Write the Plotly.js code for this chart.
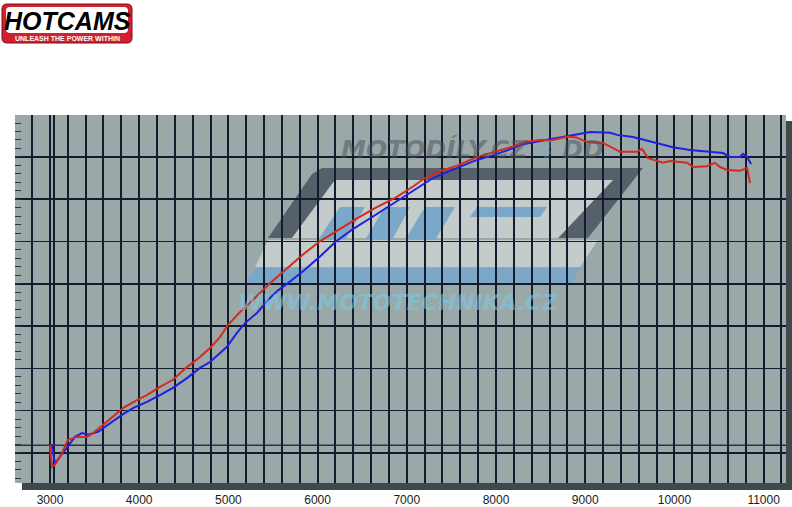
<!DOCTYPE html>
<html><head><meta charset="utf-8">
<script src="https://cdn.plot.ly/plotly-3.0.1.min.js"></script>
<style>html,body{margin:0;padding:0;background:#fff}#chart{width:792px;height:507px}</style>
</head><body><div id="chart"></div>
<script>
// ---- data (y in relative power units, 10 per grid row) ----
const rpmRed = [3000,3022,3056,3135,3202,3303,3415,3482,3594,3706,3818,3975,4087,4233,4379,4536,4682,4794,4906,4996,5130,5276,5460,5650,5840,6030,6250,6453,6643,6885,7070,7204,7372,7574,7790,7950,8135,8325,8500,8600,8807,8900,9020,9200,9390,9581,9637,9704,9872,9951,10141,10208,10366,10455,10511,10590,10735,10814,10848];
const powerRed = [1.9,-3.3,-2.8,0,3.1,3.8,3.8,4.7,6.6,8.5,10.6,12.5,13.7,15.6,17.3,20.3,22.7,24.8,27.4,30.3,33.3,36.2,40.0,43.5,47.0,50.1,53.0,55.6,57.9,60.5,63.0,65.0,66.6,68.0,70.0,71.0,72.1,73.5,74.0,73.8,74.8,74.6,73.5,73.3,71.2,71.2,71.9,69.7,68.6,69.0,68.6,67.6,67.8,68.6,67.6,66.9,66.7,67.4,63.8];
const rpmBlue = [3017,3056,3112,3191,3280,3359,3426,3538,3673,3807,3930,4087,4233,4379,4536,4682,4794,4906,4984,5096,5186,5321,5444,5560,5660,5850,6030,6205,6400,6643,6920,7100,7294,7518,7750,7950,8135,8300,8516,8700,8900,9054,9278,9357,9536,9760,9984,10175,10399,10545,10623,10735,10769,10814,10859];
const powerBlue = [2.1,-2.4,-0.9,1.4,3.8,4.7,4.3,5.0,7.1,9.0,10.6,12.1,13.7,15.4,17.7,20.1,21.5,23.6,25.1,28.4,30.7,33.1,36.2,38.5,40.0,43.2,46.5,50.0,53.0,56.2,60.0,62.5,65.0,67.0,69.0,70.3,71.6,73.0,73.8,74.6,75.4,75.9,75.7,75.2,74.7,73.5,72.3,71.6,71.2,70.9,70.0,70.0,70.7,70.0,68.3];
const xTickVals = [3000,4000,5000,6000,7000,8000,9000,10000,11000];
const xTickText = ['3000','4000','5000','6000','7000','8000','9000','10000','11000'];
const startLevel = 1.85;
const startMarkRpm = 3045;

// ---- layout geometry ----
const W=792,H=507,L=15,R=6,T=115,B=24;
const plotW=W-L-R, plotH=H-T-B;
const X0=2608, X1=11251, Y0=-7.1, Y1=79.9;
const GRID='#141b2e';
function px(x){return (x-L)/plotW;}
function py(y){return (H-B-y)/plotH;}
function dx(x){return X0+(x-L)/plotW*(X1-X0);}
function dy(y){return Y0+(H-B-y)/plotH*(Y1-Y0);}
function polyData(pts){return 'M'+pts.map(p=>dx(p[0])+','+dy(p[1])).join(' L')+' Z';}
function rrect(x0,y0,x1,y1,r){
  const a=(x,y)=>px(x)+','+py(y);
  return 'M'+a(x0+r,y0)+' L'+a(x1-r,y0)+' Q'+a(x1,y0)+' '+a(x1,y0+r)+' L'+a(x1,y1-r)+' Q'+a(x1,y1)+' '+a(x1-r,y1)+
    ' L'+a(x0+r,y1)+' Q'+a(x0,y1)+' '+a(x0,y1-r)+' L'+a(x0,y0+r)+' Q'+a(x0,y0)+' '+a(x0+r,y0)+' Z';
}
function wm(pts,color){return {type:'path',xref:'x',yref:'y',layer:'below',path:polyData(pts),fillcolor:color,line:{width:0}};}

const shapes = [
  // watermark
  wm([[322,168],[643,168],[588,238],[558,238],[613,180],[335,180],[292,238],[268,238],[312,174]],'#56606a'),
  wm([[335,180],[613,180],[558,238],[292,238]],'#c3cbcb'),
  wm([[340,207],[365,207],[345,240],[318,240]],'#7ba7c9'),
  wm([[385,207],[410,207],[392,240],[365,240]],'#7ba7c9'),
  wm([[425,207],[455,207],[435,240],[405,240]],'#7ba7c9'),
  wm([[477,207],[547,207],[540,217],[470,217]],'#7ba7c9'),
  wm([[268,240],[598,240],[580,267],[255,267]],'#c3cbcb'),
  wm([[255,268],[580,268],[572,283],[245,283]],'#7ba7c9'),
  // extra reference lines
  {type:'line',xref:'x',yref:'y',layer:'below',x0:startMarkRpm,x1:startMarkRpm,y0:Y0,y1:Y1,line:{color:GRID,width:2}},
  {type:'line',xref:'x',yref:'y',layer:'below',x0:X0,x1:X1,y0:startLevel,y1:startLevel,line:{color:'#2a3548',width:1.5}},
  // drop shadow
  {type:'rect',xref:'paper',yref:'paper',x0:px(22),x1:px(792),y0:py(490),y1:py(483),fillcolor:'#3e494b',line:{width:0}},
  {type:'rect',xref:'paper',yref:'paper',x0:px(786),x1:px(792),y0:py(490),y1:py(121),fillcolor:'#3e494b',line:{width:0}},
  // logo
  {type:'path',xref:'paper',yref:'paper',path:rrect(2,4,132,43,5),fillcolor:'#d2202e',line:{color:'#7a1018',width:1}},
  {type:'path',xref:'paper',yref:'paper',path:rrect(6,7,128,33,4),fillcolor:'#ffffff',line:{width:0}}
];

const ann = (x,y,text,font)=>({xref:'paper',yref:'paper',x:px(x),y:py(y),xanchor:'center',yanchor:'middle',text:text,showarrow:false,font:font});
const annotations = [
  ann(472,149,'MOTODÍLY.CZ <span style="color:rgba(110,170,215,0.7)">4</span> DD',
      {family:'DejaVu Sans',size:25,color:'rgba(70,80,88,0.5)',style:'italic',weight:'bold'}),
  ann(398,302,'WWW.MOTOTECHNIKA.CZ',
      {family:'DejaVu Sans',size:22,color:'rgba(120,205,235,0.55)',style:'italic',weight:'bold'}),
  ann(67,21,'HOTCAMS',{family:'Liberation Sans',size:25,color:'#000000',style:'italic',weight:'bold'}),
  ann(67,38.5,'UNLEASH THE POWER WITHIN',{family:'Liberation Sans',size:7,color:'#ffffff',weight:'bold'})
];

const data = [
  {x:rpmBlue,y:powerBlue,type:'scatter',mode:'lines',line:{color:'#1f1fe6',width:2},hoverinfo:'skip'},
  {x:rpmRed,y:powerRed,type:'scatter',mode:'lines',line:{color:'#d42b1c',width:2},hoverinfo:'skip'}
];

const layout = {
  width:W,height:H,
  margin:{l:L,r:R,t:T,b:B,pad:0},
  paper_bgcolor:'#ffffff',plot_bgcolor:'#9aa8a8',
  showlegend:false,
  font:{family:'Liberation Sans, Arial, sans-serif',color:'#1a1a1a'},
  xaxis:{range:[X0,X1],tickmode:'array',tickvals:xTickVals,ticktext:xTickText,
    showgrid:true,gridcolor:GRID,gridwidth:2,zeroline:false,showline:false,
    ticks:'outside',ticklen:6,tickwidth:2,tickcolor:GRID,
    tickfont:{size:12,color:'#1a1a1a'},
    minor:{dtick:200,tick0:0,showgrid:true,gridcolor:GRID,gridwidth:2,ticks:''}},
  yaxis:{range:[Y0,Y1],tickmode:'linear',tick0:0,dtick:10,showticklabels:false,
    showgrid:true,gridcolor:GRID,gridwidth:1.6,zeroline:false,showline:false,
    ticks:'inside',ticklen:6,tickcolor:'#2a3346',tickwidth:1,
    minor:{dtick:2,tick0:0,ticks:'inside',ticklen:6,tickcolor:'#2a3346',tickwidth:1,showgrid:false}},
  shapes:shapes,
  annotations:annotations
};

Plotly.newPlot('chart',data,layout,{displayModeBar:false,staticPlot:true});
</script>
</body></html>
